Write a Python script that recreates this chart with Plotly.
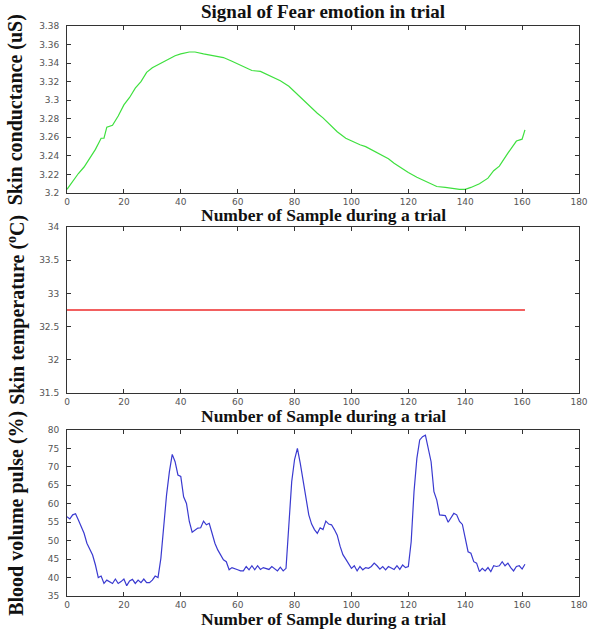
import plotly.graph_objects as go

# ---- data ----
sc_x = [0, 2, 4, 6, 8, 10, 12, 13, 14, 16, 18, 20, 22, 24, 26, 28, 30, 32, 35, 38, 40, 43, 45, 48, 50,
        53, 55, 58, 60, 63, 65, 68, 70, 73, 75, 78, 80, 83, 85, 88, 90, 93, 95, 98, 100, 103, 105, 108,
        110, 113, 115, 118, 120, 123, 125, 128, 130, 133, 135, 138, 140, 142, 145, 148, 150, 152, 155,
        157, 158, 160, 161]
sc_y = [3.204, 3.213, 3.221, 3.228, 3.237, 3.247, 3.259, 3.259, 3.271, 3.273, 3.283, 3.295, 3.303,
        3.313, 3.320, 3.330, 3.335, 3.338, 3.343, 3.348, 3.350, 3.352, 3.352, 3.350, 3.349, 3.347,
        3.346, 3.342, 3.339, 3.335, 3.332, 3.331, 3.328, 3.324, 3.321, 3.315, 3.309, 3.300, 3.294,
        3.286, 3.281, 3.272, 3.266, 3.259, 3.256, 3.252, 3.250, 3.245, 3.242, 3.237, 3.232, 3.226,
        3.222, 3.217, 3.214, 3.210, 3.207, 3.206, 3.205, 3.204, 3.204, 3.206, 3.210, 3.216, 3.224,
        3.229, 3.243, 3.252, 3.256, 3.258, 3.268]

st_x = [0, 161]
st_y = [32.75, 32.75]

bvp_y = [56.5, 55.9, 57.0, 57.3, 55.6, 53.8, 52.0, 49.3, 47.9, 46.1,
         43.4, 40.0, 40.4, 38.4, 39.3, 38.9, 38.4, 39.6, 38.4, 38.9,
         39.6, 37.8, 39.1, 39.5, 38.4, 39.3, 38.6, 39.6, 38.6, 38.6,
         39.3, 40.4, 40.0, 45.2, 54.3, 62.4, 68.7, 73.4, 71.4, 67.8,
         67.4, 61.9, 60.1, 55.2, 52.3, 52.9, 53.4, 53.5, 55.3, 54.3,
         54.7, 52.0, 49.3, 47.5, 46.3, 44.8, 44.3, 42.1, 42.7, 42.5,
         42.1, 41.8, 41.8, 43.0, 42.1, 43.2, 42.1, 43.2, 42.2, 42.7,
         42.5, 42.2, 43.0, 42.3, 41.8, 42.8, 41.8, 42.5, 55.0, 66.0,
         72.0, 75.0, 71.0, 66.0, 61.0, 57.0, 54.5, 53.0, 52.0, 53.5,
         53.0, 55.3, 54.5, 54.3, 53.0, 51.5, 48.5, 46.2, 45.0, 43.8,
         42.5, 43.2, 41.8, 43.0, 42.1, 42.7, 42.5, 43.0, 43.9, 43.2,
         42.3, 43.0, 42.1, 43.0, 42.5, 42.2, 43.2, 42.2, 43.4, 42.7,
         43.0, 49.7, 63.3, 72.3, 77.3, 78.2, 78.6, 75.0, 71.4, 63.3,
         61.0, 57.0, 57.0, 56.8, 55.0, 56.1, 57.4, 57.0, 55.2, 54.4,
         50.6, 47.0, 46.6, 44.3, 43.9, 41.6, 42.5, 41.8, 42.7, 41.6,
         43.2, 43.0, 43.2, 44.3, 43.2, 43.9, 42.7, 41.8, 43.0, 43.2,
         42.3, 43.6]
bvp_x = list(range(len(bvp_y)))

x_ticks = [0, 20, 40, 60, 80, 100, 120, 140, 160, 180]
title_text = "Signal of Fear emotion in trial"
x_title = "Number of Sample during a trial"
y_titles = ["Skin conductance (uS)", "Skin temperature (<sup>o</sup>C)", "Blood volume pulse (%)"]

# ---- figure ----
W, H = 600, 631
ML, MR, MT, MB = 67, 13, 26, 35
plot_h = H - MT - MB

def frac(ypix):
    return (H - MB - ypix) / plot_h

domains = [[frac(193), frac(26)], [frac(393), frac(227)], [frac(596), frac(430)]]

fig = go.Figure()
fig.add_trace(go.Scatter(x=sc_x, y=sc_y, mode="lines", line=dict(color="#3ee03e", width=1.2),
                         xaxis="x", yaxis="y", showlegend=False))
fig.add_trace(go.Scatter(x=st_x, y=st_y, mode="lines", line=dict(color="#ee2b2b", width=1.4),
                         xaxis="x2", yaxis="y2", showlegend=False))
fig.add_trace(go.Scatter(x=bvp_x, y=bvp_y, mode="lines", line=dict(color="#3a3ad0", width=1.2),
                         xaxis="x3", yaxis="y3", showlegend=False))

tickfont = dict(family="DejaVu Sans", size=9, color="#555555")
common = dict(showline=True, linecolor="#333333", linewidth=1, mirror="ticks", ticks="inside",
              ticklen=4, tickcolor="#333333", showgrid=False, zeroline=False, tickfont=tickfont)

y_cfg = [dict(range=[3.2, 3.38], tickvals=[3.2 + 0.02 * i for i in range(10)],
              ticktext=["3.2", "3.22", "3.24", "3.26", "3.28", "3.3", "3.32", "3.34", "3.36", "3.38"]),
         dict(range=[31.5, 34], tickvals=[31.5, 32, 32.5, 33, 33.5, 34],
              ticktext=["31.5", "32", "32.5", "33", "33.5", "34"]),
         dict(range=[35, 80], tickvals=list(range(35, 81, 5)))]

layout = dict(width=W, height=H, margin=dict(l=ML, r=MR, t=MT, b=MB),
              paper_bgcolor="white", plot_bgcolor="white")
for i in range(3):
    sx = "" if i == 0 else str(i + 1)
    layout["xaxis" + sx] = dict(domain=[0, 1], anchor="y" + sx, range=[0, 180], tickvals=x_ticks,
                                ticklabelstandoff=0, **common)
    layout["yaxis" + sx] = dict(domain=domains[i], anchor="x" + sx, ticklabelstandoff=5,
                                **y_cfg[i], **common)
fig.update_layout(**layout)

serif = "Liberation Serif"
ann = []
ann.append(dict(text="<b>%s</b>" % title_text, x=0.5, xref="paper", y=(H - MB - 12) / plot_h,
                yref="paper", showarrow=False, xanchor="center", yanchor="middle",
                font=dict(family=serif, size=19, color="#111111")))
xt_pos = [215, 416, 619]
for i in range(3):
    ann.append(dict(text="<b>%s</b>" % x_title, x=0.5, xref="paper", y=(H - MB - xt_pos[i]) / plot_h,
                    yref="paper", showarrow=False, xanchor="center", yanchor="middle",
                    font=dict(family=serif, size=17.5, color="#111111")))
    ann.append(dict(text="<b>%s</b>" % y_titles[i], x=(15 - ML) / (W - ML - MR), xref="paper",
                    y=(domains[i][0] + domains[i][1]) / 2, yref="paper", showarrow=False,
                    textangle=-90, xanchor="center", yanchor="middle",
                    font=dict(family=serif, size=20, color="#111111")))
fig.update_layout(annotations=ann)

fig.write_html("out.html", config={"displayModeBar": False},
               post_script="document.body.style.margin='0px';")
